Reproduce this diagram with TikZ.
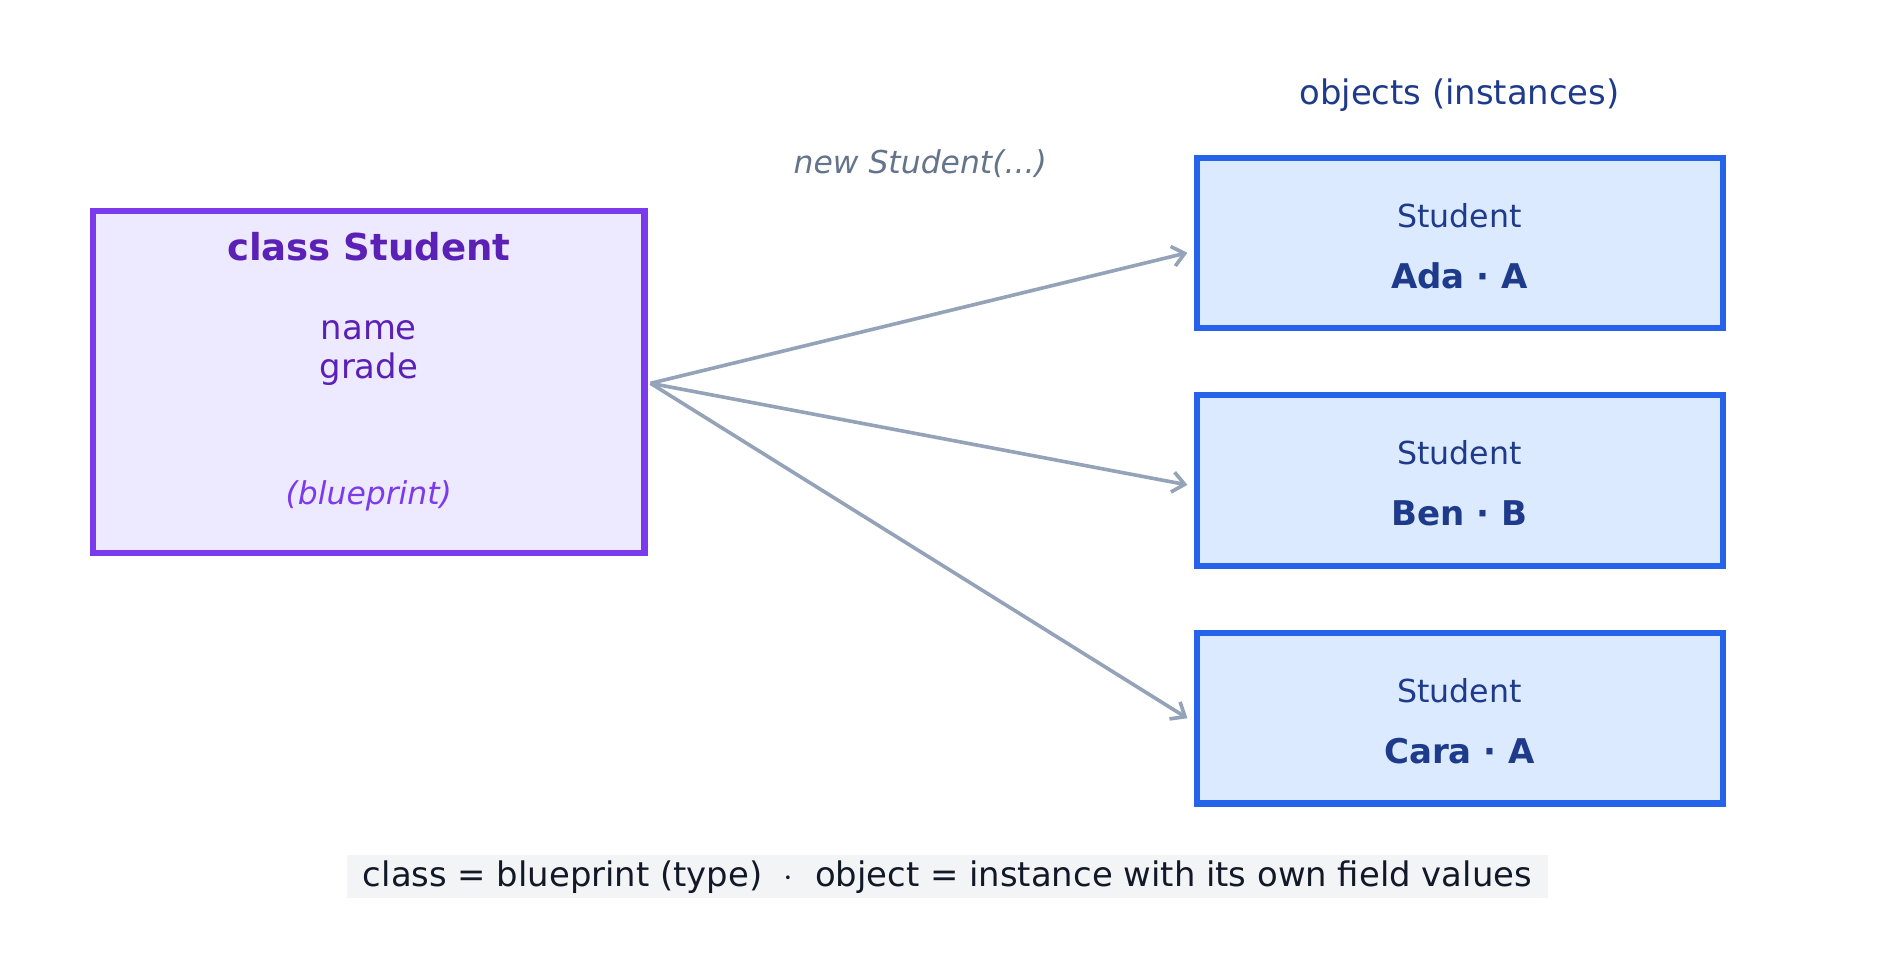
\documentclass[tikz,border=0pt]{standalone}
\usepackage{fontspec}
\setmainfont{DejaVu Sans}
\usetikzlibrary{arrows.meta}
\definecolor{pbord}{HTML}{7C3AED}\definecolor{pfill}{HTML}{EDE9FE}\definecolor{ptext}{HTML}{5B21B6}
\definecolor{bbord}{HTML}{2563EB}\definecolor{bfill}{HTML}{DBEAFE}\definecolor{btext}{HTML}{1E3A8A}
\definecolor{arr}{HTML}{94A3B8}\definecolor{gtext}{HTML}{64748B}\definecolor{capbg}{HTML}{F3F4F6}\definecolor{captext}{HTML}{111827}
\begin{document}
\begin{tikzpicture}[x=0.6pt,y=-0.6pt,
  objbox/.style={draw=bbord,fill=bfill,line width=3pt,minimum width=261pt,minimum height=84.6pt,inner sep=0pt},
  conn/.style={draw=arr,line width=1.8pt,-{Straight Barb[length=6pt,width=10pt,line width=1.8pt]}}]
\useasboundingbox (0,0) rectangle (1568,806);
\node[draw=pbord,fill=pfill,line width=3pt,minimum width=273.6pt,minimum height=169.8pt,inner sep=0pt] (cls) at (305,316) {};
\node[text=ptext,font=\bfseries\fontsize{18.4}{22}\selectfont] (ct) at (305,204) {class Student};
\node[text=ptext,font=\fontsize{16.8}{19.5}\selectfont,align=center] (cf) at (305,292) {name\\grade};
\node[text=pbord,font=\itshape\fontsize{15.6}{18}\selectfont] (cb) at (305,410) {(blueprint)};
\node[text=btext,font=\fontsize{16.8}{20}\selectfont] (ot) at (1207,79) {objects (instances)};
\node[text=gtext,font=\itshape\fontsize{15.6}{18}\selectfont] (nw) at (761,135) {new Student(...)};
\foreach \n/\y/\v in {a/201/Ada · A, b/397.5/Ben · B, c/594/Cara · A}{
  \node[objbox] (\n) at (1207.5,\y) {};
  \node[text=btext,font=\fontsize{15.7}{18}\selectfont] at (1207,\y-23) {Student};
  \node[text=btext,font=\bfseries\fontsize{16.9}{20}\selectfont] at (1207,\y+27) {\v};
}
\coordinate (src) at (538,317);
\draw[conn] (src) -- (982,209);
\draw[conn] (src) -- (982,401);
\draw[conn] (src) -- (982,594);
\node[fill=capbg,text=captext,font=\fontsize{16.8}{20}\selectfont,minimum width=595.8pt,minimum height=21.6pt,inner sep=0pt] (cap) at (783.5,725) {class = blueprint (type) \ $\cdot$ \ object = instance with its own field values};
\end{tikzpicture}
\end{document}
